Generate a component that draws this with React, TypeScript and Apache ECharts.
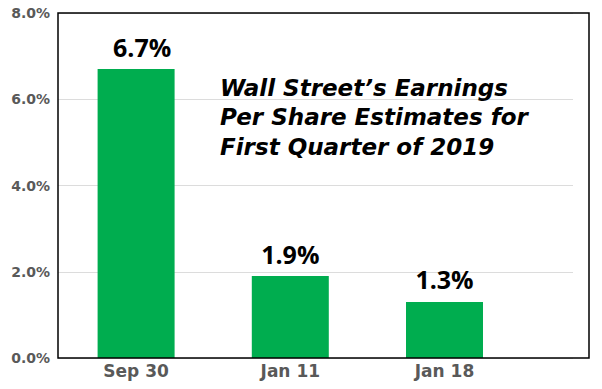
import React, { useEffect, useRef } from "react";
import * as echarts from "echarts";

const categories = ["Sep 30", "Jan 11", "Jan 18"];
const estimates = [6.7, 1.9, 1.3];
const yTicks = { min: 0, max: 8, interval: 2 };
const titleLines = ["Wall Street\u2019s Earnings", "Per Share Estimates for", "First Quarter of 2019"];

export default function App() {
  const ref = useRef<HTMLDivElement>(null);
  useEffect(() => {
    if (!ref.current) return;
    const chart = echarts.init(ref.current, null, { renderer: "svg" });
    const gray = "#595959";
    chart.setOption({
      animation: false,
      backgroundColor: "#ffffff",
      grid: [
        { left: 58, top: 13, width: 515, height: 345 },
        { left: 59, top: 13, width: 462.6, height: 345 },
      ],
      xAxis: [
        { gridIndex: 0, type: "value", show: false, min: 0, max: 1 },
        {
          gridIndex: 1,
          type: "category",
          data: categories,
          axisLine: { show: false },
          axisTick: { show: false },
          axisLabel: {
            margin: 4,
            color: gray,
            fontFamily: "DejaVu Sans",
            fontWeight: "bold",
            fontSize: 17,
          },
        },
      ],
      yAxis: [
        {
          gridIndex: 0,
          type: "value",
          min: yTicks.min,
          max: yTicks.max,
          interval: yTicks.interval,
          axisLine: { show: false },
          axisTick: { show: false },
          axisLabel: {
            margin: 8,
            color: gray,
            fontFamily: "DejaVu Sans",
            fontWeight: "bold",
            fontSize: 14,
            formatter: (v: number) => v.toFixed(1) + "%",
          },
          splitLine: { lineStyle: { color: "#dcdcdc", width: 1 } },
        },
        { gridIndex: 1, type: "value", min: yTicks.min, max: yTicks.max, show: false },
      ],
      series: [
        {
          type: "bar",
          xAxisIndex: 1,
          yAxisIndex: 1,
          data: estimates.map((v, i) =>
            i === 0 ? { value: v, label: { offset: [6, 0] } } : v
          ),
          barWidth: 77,
          itemStyle: { color: "#00AD4F" },
          label: {
            show: true,
            position: "top",
            distance: 10,
            color: "#000",
            fontFamily: "Open Sans",
            fontWeight: "bold",
            fontSize: 25,
            formatter: (p: any) => p.value.toFixed(1) + "%",
          },
        },
      ],
      graphic: [
        {
          type: "rect",
          shape: { x: 58, y: 13, width: 531, height: 345 },
          style: { fill: "none", stroke: "#000", lineWidth: 1.5 },
          z: 100,
        },
        {
          type: "text",
          x: 220,
          y: 73,
          style: {
            text: titleLines.join("\n"),
            fill: "#000",
            fontFamily: "DejaVu Sans",
            fontWeight: "bold",
            fontStyle: "italic",
            fontSize: 23,
            lineHeight: 29.5,
            verticalAlign: "top",
          },
          z: 100,
        },
      ],
    });
    return () => chart.dispose();
  }, []);
  return (
    <div
      ref={ref}
      style={{ position: "absolute", left: 0, top: 0, width: 602, height: 389 }}
    />
  );
}
